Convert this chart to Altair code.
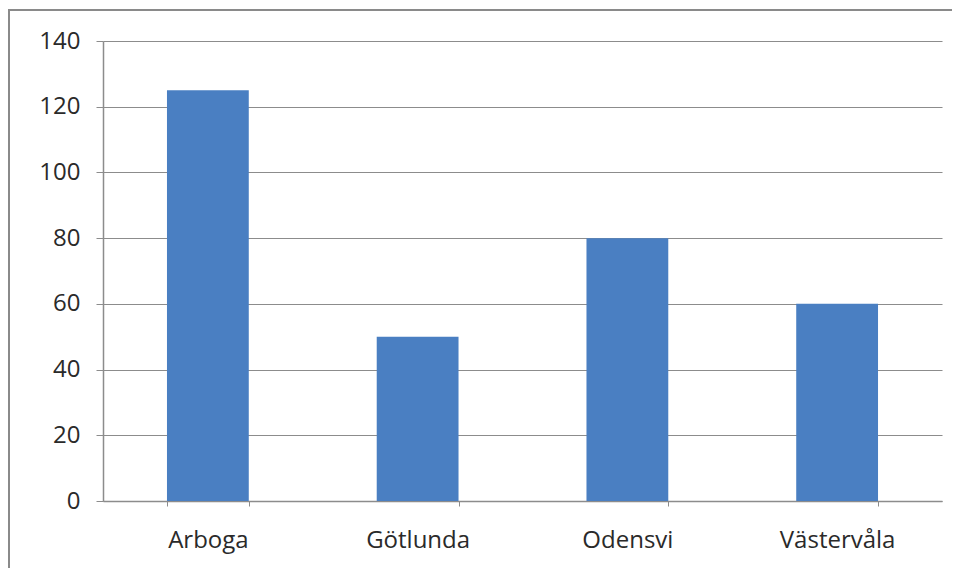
import altair as alt
import pandas as pd

categories = ["Arboga", "Götlunda", "Odensvi", "Västervåla"]
values = [125, 50, 80, 60]
y_ticks = [0, 20, 40, 60, 80, 100, 120, 140]

df = pd.DataFrame({"ort": categories, "antal": values})

FONT = "Open Sans"
GRAY = "#8c8c8c"

bars = alt.Chart(df).mark_bar(color="#4a7fc2").encode(
    x=alt.X(
        "ort:N",
        sort=categories,
        title=None,
        scale=alt.Scale(paddingInner=0.61, paddingOuter=0.305),
        axis=alt.Axis(
            labelAngle=0,
            labelFont=FONT,
            labelFontSize=24,
            labelColor="#2a2a2a",
            labelPadding=22,
            domainColor=GRAY,
            domainWidth=1.5,
            tickColor=GRAY,
            tickSize=5,
            tickBand="extent",
            grid=False,
        ),
    ),
    y=alt.Y(
        "antal:Q",
        title=None,
        scale=alt.Scale(domain=[0, 140], nice=False),
        axis=alt.Axis(
            values=y_ticks,
            labelFont=FONT,
            labelFontSize=24,
            labelColor="#2a2a2a",
            labelPadding=16,
            domainColor=GRAY,
            domainWidth=1.5,
            tickColor=GRAY,
            tickSize=7,
            gridColor=GRAY,
            gridWidth=1.2,
        ),
    ),
)

frame = alt.Chart(df).mark_rect(
    fill=None, fillOpacity=0, stroke="#8a8a8a", strokeWidth=2, clip=False
).encode(
    x=alt.value(-94),
    x2=alt.value(1000),
    y=alt.value(-31),
    y2=alt.value(700),
)

chart = alt.layer(frame, bars).properties(
    width=839,
    height=460,
    autosize=alt.AutoSizeParams(type="none"),
    padding={"left": 95, "top": 33, "right": 10, "bottom": 67},
    background="white",
).configure_view(stroke=None)

chart.save("out.html", embed_options={"renderer": "svg", "actions": False})
